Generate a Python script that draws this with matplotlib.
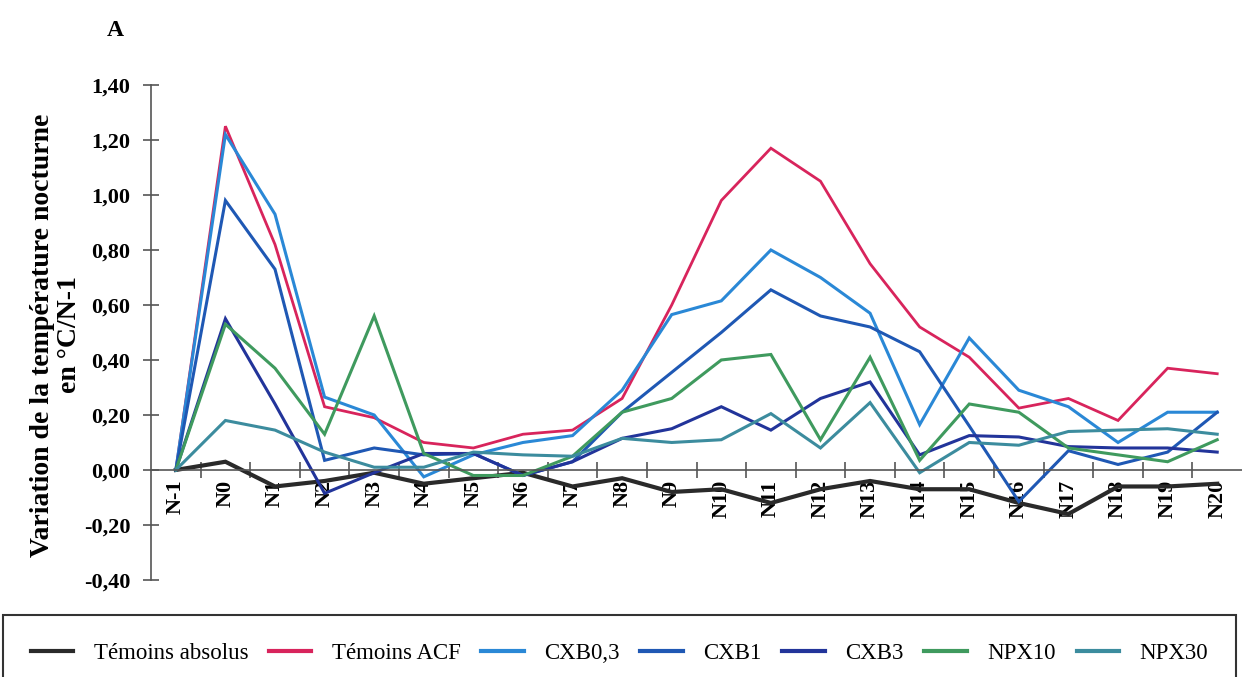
import matplotlib
matplotlib.use("Agg")
import matplotlib.pyplot as plt
import numpy as np

# categories (nights)
nights = ["N-1"] + ["N%d" % i for i in range(21)]

# temperature variation (°C / N-1)
temoins_absolus = [0.00, 0.03, -0.06, -0.04, -0.01, -0.05, -0.03, -0.01, -0.06, -0.03, -0.08,
                   -0.07, -0.12, -0.07, -0.04, -0.07, -0.07, -0.12, -0.16, -0.06, -0.06, -0.05]
temoins_acf = [0.00, 1.25, 0.82, 0.23, 0.19, 0.10, 0.08, 0.13, 0.145, 0.26, 0.60,
               0.98, 1.17, 1.05, 0.75, 0.52, 0.41, 0.225, 0.26, 0.18, 0.37, 0.35]
cxb03 = [0.00, 1.22, 0.93, 0.265, 0.20, -0.025, 0.055, 0.10, 0.125, 0.29, 0.565,
         0.615, 0.80, 0.70, 0.57, 0.165, 0.48, 0.29, 0.23, 0.10, 0.21, 0.21]
cxb1 = [0.00, 0.98, 0.73, 0.035, 0.08, 0.055, 0.06, -0.02, 0.03, 0.21, 0.355,
        0.50, 0.655, 0.56, 0.52, 0.43, 0.16, -0.115, 0.07, 0.02, 0.065, 0.21]
cxb3 = [0.00, 0.55, 0.24, -0.085, -0.01, 0.06, 0.06, -0.02, 0.03, 0.115, 0.15,
        0.23, 0.145, 0.26, 0.32, 0.055, 0.125, 0.12, 0.085, 0.08, 0.08, 0.065]
npx10 = [0.00, 0.53, 0.37, 0.13, 0.56, 0.06, -0.02, -0.02, 0.05, 0.21, 0.26,
         0.40, 0.42, 0.11, 0.41, 0.035, 0.24, 0.21, 0.08, 0.055, 0.03, 0.11]
npx30 = [0.00, 0.18, 0.145, 0.065, 0.01, 0.01, 0.065, 0.055, 0.05, 0.115, 0.10,
         0.11, 0.205, 0.08, 0.245, -0.01, 0.10, 0.09, 0.14, 0.145, 0.15, 0.13]

series = [
    ("Témoins absolus", temoins_absolus, "#2a2a2a", 3.0),
    ("Témoins ACF", temoins_acf, "#d8245c", 2.0),
    ("CXB0,3", cxb03, "#2a88d6", 2.2),
    ("CXB1", cxb1, "#1f58b4", 2.2),
    ("CXB3", cxb3, "#22349a", 2.2),
    ("NPX10", npx10, "#3f9a5e", 2.2),
    ("NPX30", npx30, "#3c8c9e", 2.2),
]

plt.rcParams["font.family"] = ["Liberation Serif", "DejaVu Serif"]

fig = plt.figure(figsize=(12.42, 6.77), dpi=100)
ax = fig.add_axes([0.1216, 0.1433, 0.8784, 0.7312])

x = np.arange(len(nights))
for name, vals, col, lw in series:
    ax.plot(x, vals, color=col, lw=lw, label=name, solid_joinstyle="miter")

ax.set_xlim(-0.5, 21.5)
ax.set_ylim(-0.4, 1.4)

for s in ["top", "right"]:
    ax.spines[s].set_visible(False)
ax.spines["bottom"].set_position(("data", 0))
for s in ["left", "bottom"]:
    ax.spines[s].set_color("#555555")
    ax.spines[s].set_linewidth(1.2)

yt = np.arange(-0.4, 1.41, 0.2)
ax.set_yticks(yt)
ax.set_yticklabels([("%.2f" % v).replace(".", ",").replace("-0,00", "0,00") for v in yt],
                   fontsize=16, fontweight="bold")
ax.tick_params(axis="y", direction="inout", length=12, width=1.2, color="#555555", pad=9)

# ticks between categories, labels on categories
ax.set_xticks(x[:-1] + 0.5)
ax.set_xticks(x, minor=True)
ax.set_xticklabels([])
ax.set_xticklabels(nights, minor=True, rotation=90, fontsize=16, fontweight="bold", va="top")
ax.tick_params(axis="x", which="major", direction="inout", length=11, width=1.2, color="#555555")
ax.tick_params(axis="x", which="minor", length=0, pad=7)

fig.text(56 / 1242, 1 - 335 / 677, "Variation de la température nocturne\nen °C/N-1",
         rotation=90, ha="center", va="center", multialignment="center",
         fontsize=20, fontweight="bold", linespacing=1.15)
fig.text(115 / 1242, 1 - 30 / 677, "A", ha="center", va="center", fontsize=17, fontweight="bold")

leg = fig.legend(loc="upper left", bbox_to_anchor=(3 / 1242, 1 - 615 / 677), ncol=7,
                 borderaxespad=0, fontsize=16.5, frameon=True, fancybox=False, edgecolor="black",
                 handlelength=1.85, handletextpad=0.9, columnspacing=0.9, borderpad=1.2)
leg.get_frame().set_linewidth(1.5)
for h in leg.get_lines():
    h.set_linewidth(3)

fig.savefig("out.png", dpi=100)
